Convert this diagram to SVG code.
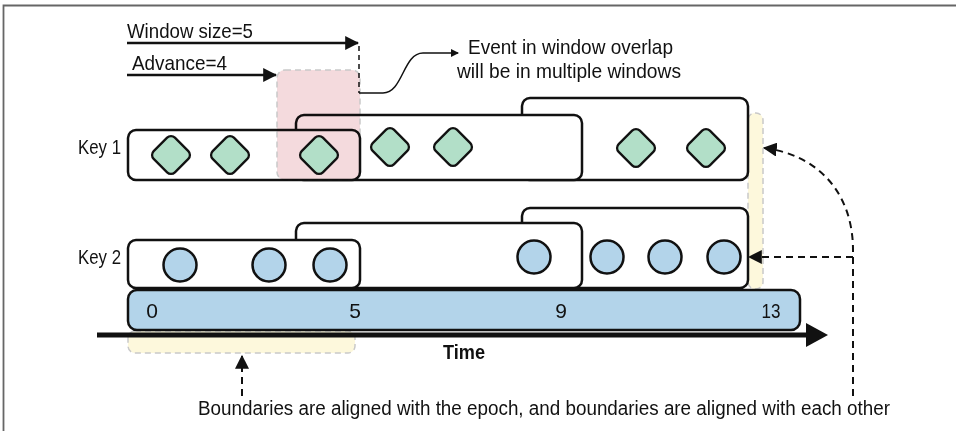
<svg xmlns="http://www.w3.org/2000/svg" width="956" height="431" viewBox="0 0 956 431">
<defs>
<style>
text{font-family:"Liberation Sans",Arial,sans-serif;font-size:21px;fill:#111}
.win{fill:#fff;stroke:#111;stroke-width:2.5}
.dia{fill:#b2dfc8;stroke:#111;stroke-width:2.3}
.cir{fill:#b3d4ea;stroke:#111;stroke-width:2.5}
.hl{stroke:#c9c9c9;stroke-width:1.5;stroke-dasharray:6 4}
.dash{fill:none;stroke:#111;stroke-width:2;stroke-dasharray:7 5}
.solid{fill:none;stroke:#111;stroke-width:2.5}
</style>
<marker id="ah" markerUnits="userSpaceOnUse" markerWidth="14" markerHeight="14" viewBox="0 0 12 12" refX="11" refY="6" orient="auto">
<path d="M0,0 L12,6 L0,12 Z" fill="#111"/>
</marker>
<marker id="ahs" markerUnits="userSpaceOnUse" markerWidth="8" markerHeight="8" viewBox="0 0 8 8" refX="7" refY="4" orient="auto">
<path d="M0,0 L8,4 L0,8 Z" fill="#111"/>
</marker>
<rect id="d" x="-15" y="-15" width="30" height="30" rx="5.5" transform="rotate(45)"/>
</defs>

<path d="M3.5,440 V5.5 H956" fill="none" stroke="#666" stroke-width="1.8"/>

<g id="boundary-right">
<rect class="hl" x="748" y="113" width="15" height="176" rx="7" fill="#fdf8dc"/>
</g>
<g id="boundary-bottom">
<rect class="hl" x="128" y="331" width="227" height="22" rx="7" fill="#fdf8dc"/>
</g>

<g id="key1">
<text x="121" y="154" text-anchor="end" textLength="43" lengthAdjust="spacingAndGlyphs">Key 1</text>
<rect class="win" x="522" y="98" width="226" height="82" rx="8"/>
<rect class="win" x="296" y="115" width="286" height="65" rx="8"/>
<rect class="win" x="128" y="130" width="232" height="50" rx="8"/>
<rect x="277" y="70" width="83" height="110" rx="8" fill="#f4dadd" stroke="#c9c9c9" stroke-width="1.5" stroke-dasharray="6 4" style="mix-blend-mode:multiply"/>
<use href="#d" class="dia" x="171" y="155"/>
<use href="#d" class="dia" x="230" y="155"/>
<use href="#d" class="dia" x="319" y="155"/>
<use href="#d" class="dia" x="390" y="147"/>
<use href="#d" class="dia" x="453" y="147"/>
<use href="#d" class="dia" x="636" y="148"/>
<use href="#d" class="dia" x="706" y="148"/>
</g>

<g id="key2">
<text x="121" y="264" text-anchor="end" textLength="43" lengthAdjust="spacingAndGlyphs">Key 2</text>
<rect class="win" x="522" y="208" width="226" height="80" rx="8"/>
<rect class="win" x="296" y="223" width="286" height="65" rx="8"/>
<rect class="win" x="128" y="240" width="232" height="48" rx="8"/>
<circle class="cir" cx="180" cy="265" r="16.5"/>
<circle class="cir" cx="269" cy="265" r="16.5"/>
<circle class="cir" cx="330" cy="265" r="16.5"/>
<circle class="cir" cx="534" cy="257" r="16.5"/>
<circle class="cir" cx="607" cy="257" r="16.5"/>
<circle class="cir" cx="665" cy="257" r="16.5"/>
<circle class="cir" cx="724" cy="257" r="16.5"/>
</g>

<g id="timeline">
<rect x="128" y="290" width="672" height="40" rx="9" fill="#b3d4ea" stroke="#111" stroke-width="2.5"/>
<text x="152" y="318" text-anchor="middle">0</text>
<text x="355" y="318" text-anchor="middle">5</text>
<text x="561" y="318" text-anchor="middle">9</text>
<text x="771" y="318" text-anchor="middle" textLength="19" lengthAdjust="spacingAndGlyphs">13</text>
</g>

<g id="labels">
<text x="127" y="38" textLength="126" lengthAdjust="spacingAndGlyphs">Window size=5</text>
<text x="132" y="70" textLength="95" lengthAdjust="spacingAndGlyphs">Advance=4</text>
<text x="468" y="54" textLength="205" lengthAdjust="spacingAndGlyphs">Event in window overlap</text>
<text x="457" y="78" textLength="224" lengthAdjust="spacingAndGlyphs">will be in multiple windows</text>
<text x="443" y="359" font-weight="bold" textLength="42" lengthAdjust="spacingAndGlyphs">Time</text>
<text x="198" y="415" style="font-size:19.5px" textLength="692" lengthAdjust="spacingAndGlyphs">Boundaries are aligned with the epoch, and boundaries are aligned with each other</text>
</g>

<g id="connectors">
<path class="solid" d="M127,43 H358" marker-end="url(#ah)"/>
<path class="solid" d="M127,75 H276" marker-end="url(#ah)"/>
<path d="M359,46 V93" fill="none" stroke="#111" stroke-width="1.5" stroke-dasharray="5 4"/>
<path d="M359,93 H383 C403,93 403,53 423,53 H458" fill="none" stroke="#111" stroke-width="1.5" marker-end="url(#ahs)"/>
<path d="M97,335 H808" fill="none" stroke="#111" stroke-width="5"/>
<path d="M806,323 L828,335 L806,347 Z" fill="#111"/>
<path class="dash" d="M853,396 V250 C853,195 820,155 764,148" marker-end="url(#ah)"/>
<path class="dash" d="M853,257 H749" marker-end="url(#ah)"/>
<path class="dash" d="M242,396 V356" marker-end="url(#ah)"/>
</g>
</svg>
